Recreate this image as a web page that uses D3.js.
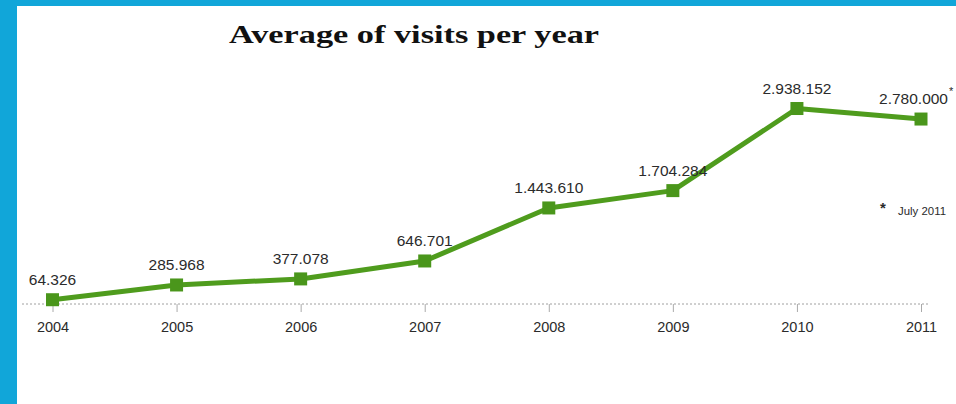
<html>
<script src='https://d3js.org/d3.v7.min.js'></script>
<body onload='init()' style='margin:0;background:#11a6d9'>
<style>
    svg { display:block; }
    .lbl { font-family: Arial, 'Liberation Sans', sans-serif; fill: #2b2b2b; }
</style>
<svg width=956 height=404></svg>
<script>

var years = ["2004","2005","2006","2007","2008","2009","2010","2011"];
var visits = [64326, 285968, 377078, 646701, 1443610, 1704284, 2938152, 2780000];
var visitLabels = ["64.326","285.968","377.078","646.701","1.443.610","1.704.284","2.938.152","2.780.000"];
var footnote = "July 2011";

function init() {

    var svg = d3.select("svg");

    // white panel (blue strip left and top)
    svg.append("rect")
        .attr("x", 17).attr("y", 6)
        .attr("width", 956 - 17).attr("height", 404 - 6)
        .attr("fill", "white");

    var data = years.map(function(y, i) { return {year: y, v: visits[i], label: visitLabels[i]}; });

    var x = d3.scalePoint()
        .domain(years)
        .range([52.5, 921]);

    var y = d3.scaleLinear()
        .domain([0, 3000000])
        .range([304, 104.4]);

    svg.append("text")
        .attr("x", 229).attr("y", 43)
        .attr("textLength", 370)
        .attr("lengthAdjust", "spacingAndGlyphs")
        .style("font-family", "'Liberation Serif', 'Times New Roman', serif")
        .style("font-weight", "bold")
        .style("font-size", "25.5px")
        .attr("fill", "#111")
        .text("Average of visits per year");

    // dotted baseline
    svg.append("line")
        .attr("x1", 22).attr("x2", 928)
        .attr("y1", y(0)).attr("y2", y(0))
        .attr("stroke", "#a0a0a0")
        .attr("stroke-dasharray", "2,2");

    var axis = svg.append("g")
        .attr("transform", "translate(0," + y(0) + ")")
        .call(d3.axisBottom(x).tickSize(8).tickPadding(10));
    axis.select(".domain").remove();
    axis.selectAll(".tick line").attr("stroke", "#aaa");
    axis.selectAll(".tick text")
        .attr("class", "lbl")
        .style("font-size", "14.5px")
        .attr("fill", "#2b2b2b");

    var line = d3.line()
        .x(function(d) { return x(d.year); })
        .y(function(d) { return y(d.v); });

    svg.append("path")
        .datum(data)
        .attr("d", line)
        .attr("fill", "none")
        .attr("stroke", "#4f9c1d")
        .attr("stroke-width", 5)
        .attr("stroke-linejoin", "round");

    svg.selectAll(".mark")
        .data(data)
        .enter()
        .append("rect")
        .attr("class", "mark")
        .attr("x", function(d) { return x(d.year) - 6.5; })
        .attr("y", function(d) { return y(d.v) - 6.5; })
        .attr("width", 13).attr("height", 13)
        .attr("fill", "#4a961b");

    var n = data.length;
    svg.selectAll(".vl")
        .data(data)
        .enter()
        .append("text")
        .attr("class", "lbl vl")
        .attr("x", function(d, i) { return i == n - 1 ? x(d.year) + 27 : x(d.year); })
        .attr("y", function(d) { return y(d.v) - 15; })
        .attr("text-anchor", function(d, i) { return i == n - 1 ? "end" : "middle"; })
        .style("font-size", "15.5px")
        .text(function(d) { return d.label; });

    // asterisk on the last value
    var last = data[n - 1];
    svg.append("text")
        .attr("class", "lbl")
        .attr("x", x(last.year) + 28)
        .attr("y", y(last.v) - 24)
        .style("font-size", "11px")
        .text("*");

    svg.append("text")
        .attr("class", "lbl")
        .attr("x", 880).attr("y", 213)
        .style("font-size", "15px")
        .style("font-weight", "bold")
        .text("*");
    svg.append("text")
        .attr("class", "lbl")
        .attr("x", 898).attr("y", 215)
        .attr("textLength", 48)
        .attr("lengthAdjust", "spacingAndGlyphs")
        .style("font-size", "10px")
        .text(footnote);
}
</script>
</body>
</html>
